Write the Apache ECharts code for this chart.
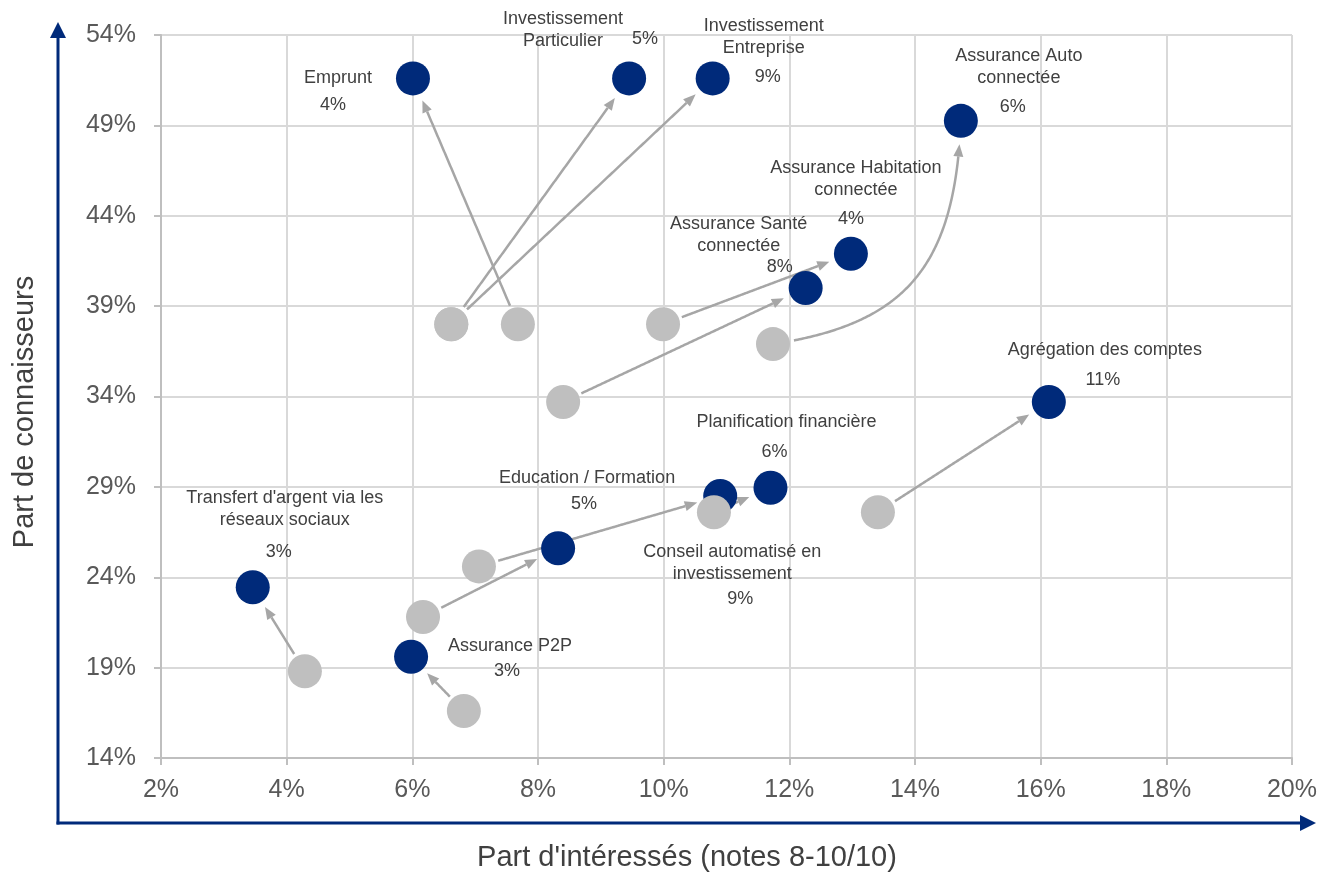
<!DOCTYPE html>
<html>
<head>
<meta charset="utf-8">
<script src="https://cdn.jsdelivr.net/npm/echarts@6/dist/echarts.min.js"></script>
<style>
  html, body { margin: 0; padding: 0; background: #ffffff; }
  #chart { width: 1320px; height: 875px; }
</style>
</head>
<body>
<div id="chart"></div>
<script>
// Fintech services: share of people who know the service vs. share interested (8-10/10),
// first wave (grey) and latest wave (blue), with the share of users per service.
const products = [
  'Emprunt',
  'Investissement\nParticulier',
  'Investissement\nEntreprise',
  'Assurance Auto\nconnectée',
  'Assurance Habitation\nconnectée',
  'Assurance Santé\nconnectée',
  'Agrégation des comptes',
  'Planification financière',
  'Education / Formation',
  'Conseil automatisé en\ninvestissement',
  "Transfert d'argent via les\nréseaux sociaux",
  'Assurance P2P'
];
// Part d'intéressés (%), previous wave
const interestBefore  = [7.68, 6.62, 6.62, 11.74, 9.99, 8.40, 13.41, 10.80, 6.17, 7.06, 4.29, 6.82];
// Part de connaisseurs (%), previous wave
const awarenessBefore = [38.0, 38.0, 38.0, 36.9, 38.0, 33.7, 27.6, 27.6, 21.8, 24.6, 18.8, 16.6];
// Part d'intéressés (%), latest wave
const interestAfter   = [6.01, 9.45, 10.78, 14.73, 12.98, 12.26, 16.13, 11.70, 8.32, 10.90, 3.46, 5.98];
// Part de connaisseurs (%), latest wave
const awarenessAfter  = [51.6, 51.6, 51.6, 49.25, 41.9, 40.0, 33.7, 28.95, 25.6, 28.5, 23.45, 19.6];
// Share of users (%)
const shares = [4, 5, 9, 6, 4, 8, 11, 6, 5, 9, 3, 3];

// Axis ticks
const xTicks = [2, 4, 6, 8, 10, 12, 14, 16, 18, 20];
const yTicks = [14, 19, 24, 29, 34, 39, 44, 49, 54];

// Label placement around each latest-wave dot: [name offset, share offset] in px
const labelOffsets = [
  [[-75, 0],    [-80, 27]],
  [[-66, -48],  [16, -39]],
  [[51, -41],   [55, -1]],
  [[58, -54],   [52, -14]],
  [[5, -75],    [0, -35]],
  [[-67, -53],  [-26, -21]],
  [[56, -52],   [54, -22]],
  [[16, -66],   [4, -36]],
  [[29, -70],   [26, -44]],
  [[12, 67],    [20, 103]],
  [[32, -78],   [26, -35]],
  [[99, -11],   [96, 14]]
];
// Arrows drawn as a bent curve (cubic control points as fractions of the span)
const curvedArrows = { 'Assurance Auto\nconnectée': [[0.70, 0.09], [0.968, 0.34]] };

const BLUE = '#002A7A';
const GREY_DOT = '#BFBFBF';
const ARROW = '#A6A6A6';
const TEXT = '#404040';
const FONT = "'Liberation Sans', Arial, Helvetica, sans-serif";

const GAP_START = 20, GAP_END = 23, HEAD_LEN = 12, HEAD_W = 5;

function arrowItem(params, api) {
  const p0 = api.coord([api.value(0), api.value(1)]);
  const p1 = api.coord([api.value(2), api.value(3)]);
  const curve = curvedArrows[products[params.dataIndex]];
  let pts = [];
  if (curve) {
    const dx = p1[0] - p0[0], dy = p1[1] - p0[1];
    const c1 = [p0[0] + curve[0][0] * dx, p0[1] + curve[0][1] * dy];
    const c2 = [p0[0] + curve[1][0] * dx, p0[1] + curve[1][1] * dy];
    for (let i = 0; i <= 200; i++) {
      const t = i / 200, s = 1 - t;
      pts.push([
        s * s * s * p0[0] + 3 * s * s * t * c1[0] + 3 * s * t * t * c2[0] + t * t * t * p1[0],
        s * s * s * p0[1] + 3 * s * s * t * c1[1] + 3 * s * t * t * c2[1] + t * t * t * p1[1]
      ]);
    }
  } else {
    for (let i = 0; i <= 200; i++) {
      const t = i / 200;
      pts.push([p0[0] + (p1[0] - p0[0]) * t, p0[1] + (p1[1] - p0[1]) * t]);
    }
  }
  const dist = (a, b) => Math.hypot(a[0] - b[0], a[1] - b[1]);
  let iStart = 0;
  while (iStart < pts.length - 1 && dist(pts[iStart], p0) < GAP_START) iStart++;
  let iTip = pts.length - 1;
  while (iTip > iStart && dist(pts[iTip], p1) < GAP_END) iTip--;
  const tip = pts[iTip];
  let iBase = iTip;
  while (iBase > iStart && dist(pts[iBase], tip) < HEAD_LEN) iBase--;
  const base = pts[iBase];
  const ux = (tip[0] - base[0]) / (dist(tip, base) || 1);
  const uy = (tip[1] - base[1]) / (dist(tip, base) || 1);
  const body = pts.slice(iStart, iBase + 1);
  return {
    type: 'group',
    children: [
      {
        type: 'polyline',
        shape: { points: body },
        style: { stroke: ARROW, lineWidth: 2.5, fill: null }
      },
      {
        type: 'polygon',
        shape: { points: [tip, [base[0] - uy * HEAD_W, base[1] + ux * HEAD_W], [base[0] + uy * HEAD_W, base[1] - ux * HEAD_W]] },
        style: { fill: ARROW }
      }
    ]
  };
}

const arrowData = products.map((p, i) => [interestBefore[i], awarenessBefore[i], interestAfter[i], awarenessAfter[i]]);
const afterData = products.map((p, i) => ({
  name: p,
  value: [interestAfter[i], awarenessAfter[i]],
  label: { offset: labelOffsets[i][0] }
}));
const shareData = products.map((p, i) => ({
  name: shares[i] + '%',
  value: [interestAfter[i], awarenessAfter[i]],
  label: { offset: labelOffsets[i][1] }
}));
const beforeData = products.map((p, i) => [interestBefore[i], awarenessBefore[i]]);

const labelStyle = {
  show: true,
  position: 'inside',
  formatter: '{b}',
  color: TEXT,
  opacity: 1,
  fontSize: 18,
  fontFamily: FONT,
  lineHeight: 22,
  align: 'center',
  verticalAlign: 'middle'
};

const axisCommon = {
  type: 'value',
  axisLine: { show: true, lineStyle: { color: '#BFBFBF', width: 2 } },
  axisTick: { show: true, length: 7, lineStyle: { color: '#BFBFBF', width: 2 } },
  splitLine: { show: true, lineStyle: { color: '#D9D9D9', width: 2 } },
  axisLabel: { formatter: '{value}%', color: '#595959', fontSize: 25, fontFamily: FONT }
};

const chart = echarts.init(document.getElementById('chart'), null, { renderer: 'canvas' });
chart.setOption({
  animation: false,
  backgroundColor: '#ffffff',
  grid: { left: 161, right: 28, top: 35, bottom: 117, containLabel: false },
  xAxis: Object.assign({}, axisCommon, {
    min: xTicks[0], max: xTicks[xTicks.length - 1], interval: xTicks[1] - xTicks[0],
    axisLabel: Object.assign({}, axisCommon.axisLabel, { margin: 20 })
  }),
  yAxis: Object.assign({}, axisCommon, {
    min: yTicks[0], max: yTicks[yTicks.length - 1], interval: yTicks[1] - yTicks[0],
    axisLabel: Object.assign({}, axisCommon.axisLabel, { margin: 25 })
  }),
  graphic: [
    // Axis titles
    {
      type: 'text', x: 25, y: 412, rotation: Math.PI / 2, silent: true,
      style: { text: 'Part de connaisseurs', fontSize: 29, fontFamily: FONT, fill: TEXT, align: 'center', verticalAlign: 'middle' }
    },
    {
      type: 'text', x: 687, y: 858, silent: true,
      style: { text: "Part d'intéressés (notes 8-10/10)", fontSize: 29, fontFamily: FONT, fill: TEXT, align: 'center', verticalAlign: 'middle' }
    },
    // Blue framing arrows
    { type: 'line', silent: true, shape: { x1: 58, y1: 824.5, x2: 58, y2: 36 }, style: { stroke: BLUE, lineWidth: 3 } },
    { type: 'polygon', silent: true, shape: { points: [[58, 22], [50, 38], [66, 38]] }, style: { fill: BLUE } },
    { type: 'line', silent: true, shape: { x1: 56.5, y1: 823, x2: 1302, y2: 823 }, style: { stroke: BLUE, lineWidth: 3 } },
    { type: 'polygon', silent: true, shape: { points: [[1316, 823], [1300, 815], [1300, 831]] }, style: { fill: BLUE } }
  ],
  series: [
    {
      type: 'custom',
      name: 'Évolution',
      renderItem: arrowItem,
      data: arrowData,
      encode: { x: [0, 2], y: [1, 3] },
      z: 1,
      silent: true
    },
    {
      type: 'scatter',
      name: 'Vague actuelle',
      data: afterData,
      symbol: 'circle',
      symbolSize: 34,
      itemStyle: { color: BLUE, opacity: 1 },
      label: labelStyle,
      z: 2,
      silent: true
    },
    {
      type: 'scatter',
      name: 'Part d\'utilisateurs',
      data: shareData,
      symbol: 'circle',
      symbolSize: 1,
      itemStyle: { color: 'rgba(0,0,0,0)', opacity: 1 },
      label: labelStyle,
      z: 2,
      silent: true
    },
    {
      type: 'scatter',
      name: 'Vague précédente',
      data: beforeData,
      symbol: 'circle',
      symbolSize: 34,
      itemStyle: { color: GREY_DOT, opacity: 1 },
      z: 3,
      silent: true
    }
  ]
});
</script>
</body>
</html>
